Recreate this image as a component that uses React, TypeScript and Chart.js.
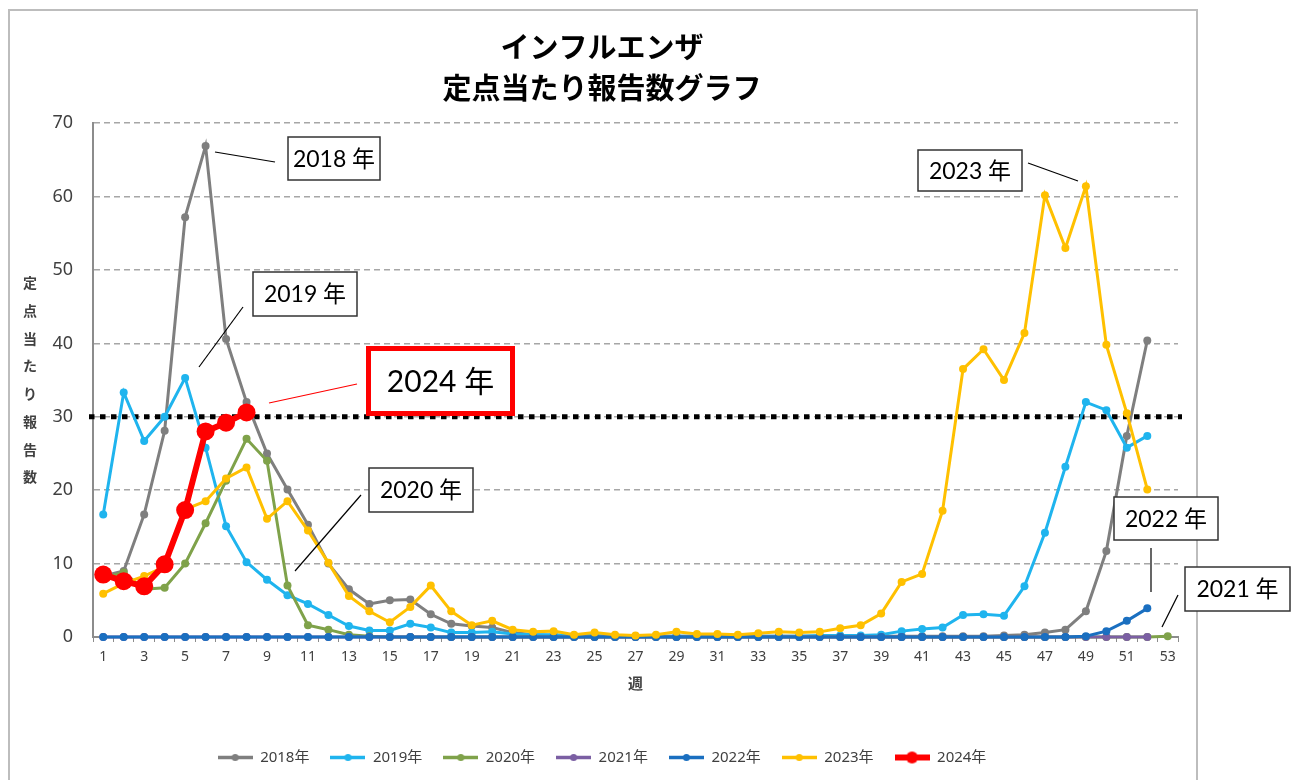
import React, { useEffect, useRef } from "react";
import { Chart, registerables } from "chart.js";

Chart.register(...registerables);

// ---------- data ----------
const WEEKS = [
  "1", "2", "3", "4", "5", "6", "7", "8", "9", "10",
  "11", "12", "13", "14", "15", "16", "17", "18", "19", "20",
  "21", "22", "23", "24", "25", "26", "27", "28", "29", "30",
  "31", "32", "33", "34", "35", "36", "37", "38", "39", "40",
  "41", "42", "43", "44", "45", "46", "47", "48", "49", "50",
  "51", "52", "53",
];

const Y2018 = [
  8.3, 9.0, 16.7, 28.1, 57.2, 66.9, 40.6, 32.0, 25.0, 20.1,
  15.3, 10.0, 6.5, 4.5, 5.0, 5.1, 3.1, 1.8, 1.5, 1.3,
  0.6, 0.3, 0.2, 0.1, 0.1, 0.1, 0.1, 0.1, 0.1, 0.1,
  0.1, 0.1, 0.1, 0.1, 0.1, 0.1, 0.1, 0.1, 0.1, 0.1,
  0.1, 0.1, 0.1, 0.1, 0.2, 0.3, 0.6, 1.0, 3.5, 11.7,
  27.4, 40.4,
];

const Y2019 = [
  16.7, 33.3, 26.7, 30.0, 35.3, 25.8, 15.1, 10.2, 7.8, 5.7,
  4.5, 3.0, 1.5, 0.9, 0.9, 1.8, 1.3, 0.6, 0.6, 0.7,
  0.4, 0.3, 0.3, 0.2, 0.2, 0.1, 0.1, 0.1, 0.1, 0.1,
  0.1, 0.1, 0.1, 0.1, 0.1, 0.2, 0.2, 0.2, 0.3, 0.8,
  1.1, 1.3, 3.0, 3.1, 2.9, 6.9, 14.2, 23.2, 32.0, 30.9,
  25.8, 27.4,
];

const Y2020 = [
  8.0, 8.8, 6.5, 6.7, 10.0, 15.5, 21.3, 27.0, 24.0, 7.0,
  1.6, 1.0, 0.3, 0.1, 0, 0, 0, 0, 0, 0,
  0, 0, 0, 0, 0, 0, 0, 0, 0, 0,
  0, 0, 0, 0, 0, 0, 0, 0, 0, 0,
  0, 0, 0, 0, 0, 0, 0, 0, 0, 0,
  0, 0, 0.1,
];

const Y2021 = [
  0, 0, 0, 0, 0, 0, 0, 0, 0, 0,
  0, 0, 0, 0, 0, 0, 0, 0, 0, 0,
  0, 0, 0, 0, 0, 0, 0, 0, 0, 0,
  0, 0, 0, 0, 0, 0, 0, 0, 0, 0,
  0, 0, 0, 0, 0, 0, 0, 0, 0, 0,
  0, 0,
];

const Y2022 = [
  0, 0, 0, 0, 0, 0, 0, 0, 0, 0,
  0, 0, 0, 0, 0, 0, 0, 0, 0, 0,
  0, 0, 0, 0, 0, 0, 0, 0, 0, 0,
  0, 0, 0, 0, 0, 0, 0, 0, 0, 0,
  0, 0, 0, 0, 0, 0, 0, 0, 0.1, 0.8,
  2.2, 3.9,
];

const Y2023 = [
  5.9, 7.3, 8.3, 9.6, 17.4, 18.5, 21.6, 23.1, 16.1, 18.5,
  14.5, 10.1, 5.6, 3.5, 2.0, 4.1, 7.0, 3.5, 1.6, 2.2,
  1.0, 0.7, 0.8, 0.3, 0.6, 0.3, 0.2, 0.3, 0.7, 0.4,
  0.4, 0.3, 0.5, 0.7, 0.6, 0.7, 1.2, 1.6, 3.2, 7.5,
  8.6, 17.2, 36.5, 39.2, 35.0, 41.4, 60.2, 53.0, 61.4, 39.8,
  30.5, 20.1,
];

const Y2024 = [8.5, 7.6, 6.9, 9.9, 17.3, 28.0, 29.2, 30.6];

const SERIES_LABELS = ["2018年", "2019年", "2020年", "2021年", "2022年", "2023年", "2024年"];
const SERIES_VALUES = [Y2018, Y2019, Y2020, Y2021, Y2022, Y2023, Y2024];

const THRESHOLD = 30;
const Y_MAX = 70;
const Y_STEP = 10;

const TITLE_LINES = ["インフルエンザ", "定点当たり報告数グラフ"];
const Y_TITLE = "定点当たり報告数";
const X_TITLE = "週";

// ---------- styles ----------
const STYLES = [
  { color: "#7f7f7f", width: 3, radius: 4 },
  { color: "#1fb4ee", width: 3, radius: 4 },
  { color: "#7fa24a", width: 3, radius: 4 },
  { color: "#7b5fa3", width: 3, radius: 4 },
  { color: "#1a6fc0", width: 3, radius: 4 },
  { color: "#ffc000", width: 3, radius: 4 },
  { color: "#ff0000", width: 6, radius: 9 },
];

// callouts in canvas pixels: box [x1,y1,x2,y2], leader [x1,y1,x2,y2]
const CALLOUTS = [
  { text: "2018 年", box: [288, 137, 380, 180], leader: [215, 152, 275, 162], size: 23, border: "#333", bw: 1.5, lineColor: "#000", lw: 1.2 },
  { text: "2019 年", box: [253, 272, 357, 316], leader: [243, 307, 199, 367], size: 23, border: "#333", bw: 1.5, lineColor: "#000", lw: 1.2 },
  { text: "2024 年", box: [368.5, 348.5, 512.5, 413.5], leader: [357, 384, 269, 403], size: 30, border: "#ff0000", bw: 5, lineColor: "#ff0000", lw: 1.2 },
  { text: "2020 年", box: [369, 468, 473, 512], leader: [361, 495, 295, 571], size: 23, border: "#333", bw: 1.5, lineColor: "#000", lw: 1.2 },
  { text: "2023 年", box: [918, 150, 1022, 191], leader: [1028, 163, 1078, 181], size: 23, border: "#333", bw: 1.5, lineColor: "#000", lw: 1.2 },
  { text: "2022 年", box: [1114, 497, 1218, 540], leader: [1151, 548, 1151, 592], size: 23, border: "#333", bw: 1.5, lineColor: "#000", lw: 1.2 },
  { text: "2021 年", box: [1185, 567, 1290, 611], leader: [1178, 595, 1162, 627], size: 23, border: "#333", bw: 1.5, lineColor: "#000", lw: 1.2 },
];

function makeIcon(color: string, lw: number, r: number) {
  const c = document.createElement("canvas");
  c.width = 35;
  c.height = Math.ceil(2 * r + 4);
  const ctx = c.getContext("2d")!;
  ctx.strokeStyle = color;
  ctx.lineWidth = lw;
  ctx.beginPath();
  ctx.moveTo(0, c.height / 2);
  ctx.lineTo(35, c.height / 2);
  ctx.stroke();
  ctx.fillStyle = color;
  ctx.beginPath();
  ctx.arc(17.5, c.height / 2, r, 0, Math.PI * 2);
  ctx.fill();
  return c;
}

const decorPlugin = {
  id: "decor",
  beforeDraw(chart: any) {
    const ctx = chart.ctx;
    ctx.save();
    ctx.fillStyle = "#ffffff";
    ctx.fillRect(0, 0, chart.width, chart.height);
    ctx.strokeStyle = "#bdbdbd";
    ctx.lineWidth = 2;
    ctx.beginPath();
    ctx.moveTo(9, 800);
    ctx.lineTo(9, 10);
    ctx.lineTo(1197, 10);
    ctx.lineTo(1197, 800);
    ctx.stroke();
    // vertical y-axis title
    ctx.fillStyle = "#404040";
    ctx.font = "bold 14px 'Noto Sans CJK JP'";
    ctx.textAlign = "center";
    ctx.textBaseline = "middle";
    const chars = Array.from(Y_TITLE);
    chars.forEach((ch, i) => {
      ctx.fillText(ch, 30, 283 + i * 27.7);
    });
    ctx.restore();
  },
  beforeDatasetsDraw(chart: any) {
    const ctx = chart.ctx;
    const y = chart.scales.y.getPixelForValue(THRESHOLD);
    const { left, right } = chart.chartArea;
    ctx.save();
    ctx.strokeStyle = "#000";
    ctx.lineWidth = 5;
    ctx.setLineDash([5.5, 5.5]);
    ctx.beginPath();
    ctx.moveTo(left - 4, y);
    ctx.lineTo(right + 4, y);
    ctx.stroke();
    ctx.restore();
  },
  afterDatasetsDraw(chart: any) {
    const ctx = chart.ctx;
    ctx.save();
    CALLOUTS.forEach((c) => {
      ctx.strokeStyle = c.lineColor;
      ctx.lineWidth = c.lw;
      ctx.beginPath();
      ctx.moveTo(c.leader[0], c.leader[1]);
      ctx.lineTo(c.leader[2], c.leader[3]);
      ctx.stroke();
      const [x1, y1, x2, y2] = c.box;
      ctx.fillStyle = "#fff";
      ctx.fillRect(x1, y1, x2 - x1, y2 - y1);
      ctx.strokeStyle = c.border;
      ctx.lineWidth = c.bw;
      ctx.strokeRect(x1, y1, x2 - x1, y2 - y1);
      ctx.fillStyle = "#000";
      ctx.font = `${c.size}px Lato, 'Noto Sans CJK JP'`;
      ctx.textAlign = "center";
      ctx.textBaseline = "middle";
      ctx.fillText(c.text, (x1 + x2) / 2, (y1 + y2) / 2 + 1);
    });
    ctx.restore();
  },
};

export default function App() {
  const ref = useRef<HTMLCanvasElement | null>(null);

  useEffect(() => {
    if (!ref.current) return;
    const icons = STYLES.map((s, i) =>
      i === 6 ? makeIcon(s.color, 6, 6) : makeIcon(s.color, 3.5, 3.5)
    );
    const datasets = SERIES_LABELS.map((label, i) => ({
      label,
      data: SERIES_VALUES[i],
      borderColor: STYLES[i].color,
      backgroundColor: STYLES[i].color,
      borderWidth: STYLES[i].width,
      pointRadius: STYLES[i].radius,
      pointBorderWidth: 0,
      pointBackgroundColor: STYLES[i].color,
      tension: 0,
      fill: false,
      order: SERIES_LABELS.length - i,
      clip: 14,
    }));

    const chart = new Chart(ref.current, {
      type: "line",
      data: { labels: WEEKS, datasets },
      plugins: [decorPlugin],
      options: {
        animation: false,
        responsive: true,
        maintainAspectRatio: false,
        layout: { padding: { left: 26, right: 118, top: 10, bottom: 5 } },
        plugins: {
          title: {
            display: true,
            text: TITLE_LINES,
            color: "#000",
            font: { family: "'Noto Sans CJK JP'", size: 29, weight: "bold", lineHeight: 1.4 },
            padding: { top: 17, bottom: 15 },
          },
          legend: {
            position: "bottom",
            labels: {
              usePointStyle: true,
              pointStyleWidth: 35,
              boxHeight: 15,
              padding: 21,
              color: "#404040",
              font: { family: "'Noto Sans', 'Noto Sans CJK JP'", size: 15 },
              generateLabels: (ch: any) =>
                ch.data.datasets.map((ds: any, i: number) => ({
                  text: ds.label,
                  pointStyle: icons[i],
                  fillStyle: ds.borderColor,
                  strokeStyle: ds.borderColor,
                  lineWidth: 0,
                  hidden: false,
                  datasetIndex: i,
                  fontColor: "#404040",
                })),
            },
          },
          tooltip: { enabled: false },
        },
        scales: {
          x: {
            type: "category",
            offset: true,
            afterFit: (s: any) => {
              s.height = 92;
            },
            grid: {
              display: true,
              drawOnChartArea: false,
              drawTicks: true,
              tickLength: 5,
              offset: true,
              color: "#8c8c8c",
            },
            border: { display: true, color: "#8c8c8c", width: 2 },
            ticks: {
              autoSkip: false,
              maxRotation: 0,
              padding: 7,
              color: "#404040",
              font: { family: "'Noto Sans'", size: 14 },
              callback: (_v: any, idx: number) => (idx % 2 === 0 ? WEEKS[idx] : ""),
            },
            title: {
              display: true,
              text: X_TITLE,
              color: "#404040",
              font: { family: "'Noto Sans CJK JP'", size: 15, weight: "bold" },
              padding: { top: 0, bottom: 37 },
            },
          },
          y: {
            min: 0,
            max: Y_MAX,
            afterFit: (s: any) => {
              s.width = 67;
            },
            ticks: {
              stepSize: Y_STEP,
              padding: 20,
              color: "#404040",
              font: { family: "'Noto Sans'", size: 18 },
            },
            grid: {
              drawTicks: false,
              lineWidth: 1.5,
              color: (c: any) => (c.tick && c.tick.value === 0 ? "rgba(0,0,0,0)" : "#a6a6a6"),
            },
            border: { display: true, color: "#8c8c8c", width: 2, dash: [6, 4] },
          },
        },
      },
    });
    return () => chart.destroy();
  }, []);

  return (
    <div style={{ position: "absolute", left: 0, top: 0, width: 1296, height: 780 }}>
      <canvas ref={ref} />
    </div>
  );
}
